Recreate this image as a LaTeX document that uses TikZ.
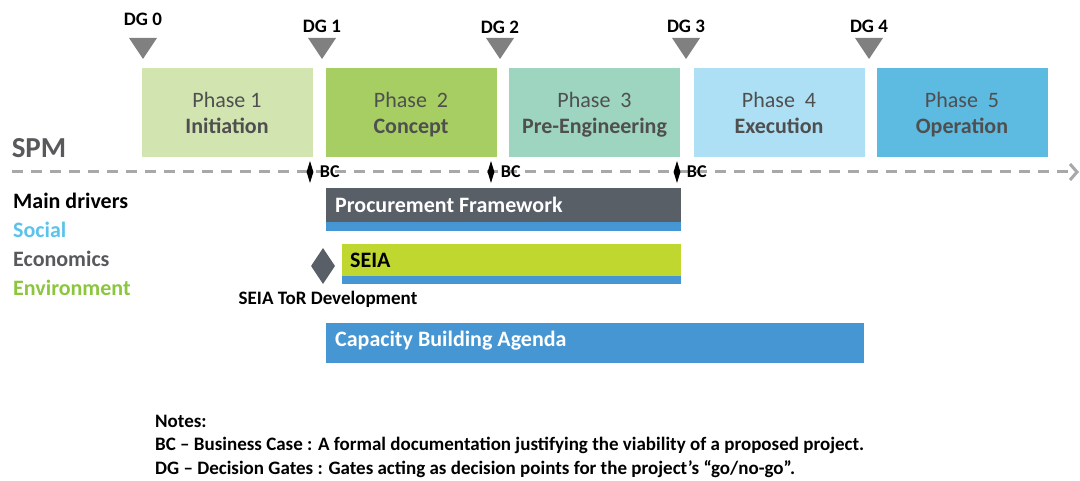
\documentclass[tikz,border=0pt]{standalone}
\usepackage{fontspec}
\setmainfont{Carlito}
\usetikzlibrary{arrows.meta, positioning, shapes.geometric}
\definecolor{gatecol}{HTML}{808080}
\definecolor{phasetext}{HTML}{4F4F4F}
\definecolor{phaseA}{HTML}{D2E5B1}
\definecolor{phaseB}{HTML}{A6CE62}
\definecolor{phaseC}{HTML}{9DD5C0}
\definecolor{phaseD}{HTML}{AEE0F5}
\definecolor{phaseE}{HTML}{5DBAE0}
\definecolor{dashgray}{HTML}{A8A8A8}
\definecolor{econ}{HTML}{585F67}
\definecolor{social}{HTML}{4596D2}
\definecolor{enviro}{HTML}{C0D72F}
\definecolor{socialtxt}{HTML}{5BC3EB}
\definecolor{econtxt}{HTML}{58595B}
\definecolor{envirotxt}{HTML}{8CC63F}

\begin{document}
\begin{tikzpicture}[x=1pt, y=-1pt, >=Stealth,
  phase/.style={minimum width=171pt, minimum height=89pt, inner sep=0pt, align=center, text=phasetext, font=\fontsize{22}{26}\selectfont},
  gatelabel/.style={font=\bfseries\fontsize{19}{21}\selectfont, inner sep=0pt},
  bcmark/.style={diamond, fill=black, minimum width=7pt, minimum height=22pt, inner sep=0pt},
  bclabel/.style={font=\bfseries\fontsize{18}{20}\selectfont, inner sep=0pt},
  driver/.style={anchor=west, inner sep=0pt, font=\bfseries\fontsize{22}{24}\selectfont},
  bartext/.style={anchor=west, inner sep=0pt, font=\bfseries\fontsize{22}{24}\selectfont},
  note/.style={anchor=west, inner sep=0pt, text height=13pt, text depth=4pt, font=\bfseries\fontsize{19}{22}\selectfont},
  timeline/.style={draw=dashgray, line width=3pt, dash pattern=on 11pt off 8pt, -{Straight Barb[length=7pt, width=16pt]}}]
  \useasboundingbox (0,0) rectangle (1080,481);

  % decision gates
  \foreach \gx/\gn/\gy in {143/0/19, 322/1/26, 500/2/27, 686/3/26, 869/4/26} {
    \coordinate (dg\gn) at (\gx,38);
    \fill[gatecol] (dg\gn) ++(-14,0) -- ++(28,0) -- ++(-14,21) -- cycle;
    \node[gatelabel] (dglabel\gn) at (\gx,\gy) {DG \gn};
  }

  % phases
  \foreach \px/\col/\ph/\name [count=\i] in {227/phaseA/Phase 1/Initiation,
      411/phaseB/Phase\ \ 2/Concept, 594.5/phaseC/Phase\ \ 3/Pre-Engineering,
      779/phaseD/Phase\ \ 4/Execution, 962/phaseE/Phase\ \ 5/Operation}
    \node[phase, fill=\col] (phase\i) at (\px,112.5) {\rule{0pt}{24.2pt}\ph\\\textbf{\name}\strut};

  % SPM line with business cases
  \node[font=\bfseries\fontsize{29}{31}\selectfont, text=econtxt, inner sep=0pt] (spm) at (39,148) {SPM};
  \coordinate (spmstart) at (12,172);
  \coordinate (spmend) at (1079,172);
  \draw[timeline] (spmstart) -- (spmend);
  \foreach \bx [count=\i] in {310,491,677} {
    \node[bcmark] (bc\i) at (\bx,172) {};
    \node[bclabel, right=6pt of bc\i] (bclabel\i) {BC};
  }

  % drivers
  \node[driver, text=black] (drivers) at (13,201) {Main drivers};
  \node[driver, text=socialtxt] (social) at (13,230) {Social};
  \node[driver, text=econtxt] (economics) at (13,259) {Economics};
  \node[driver, text=envirotxt] (environment) at (13,288) {Environment};

  % work streams
  \fill[econ] (326,188) rectangle (681,222);
  \fill[social] (326,222) rectangle (681,231);
  \node[bartext, text=white] (proc) at (335,205) {Procurement Framework};

  \fill[enviro] (342,244) rectangle (681,276);
  \fill[social] (342,276) rectangle (681,284);
  \node[bartext, text=black] (seia) at (350,260) {SEIA};
  \node[diamond, fill=econ, minimum width=24pt, minimum height=36pt, inner sep=0pt] (tor) at (323,266) {};
  \node[bclabel, text=black, font=\bfseries\fontsize{19}{21}\selectfont] (torlabel) at (328,299) {SEIA ToR Development};

  \fill[social] (326,323) rectangle (864,363);
  \node[bartext, text=white] (cba) at (335,341) {Capacity Building Agenda};

  % notes
  \node[note] (notes) at (155,423) {Notes:};
  \node[note] (notebc) at (155,446) {BC – Business Case : A formal documentation justifying the viability of a proposed project.};
  \node[note] (notedg) at (155,470) {DG – Decision Gates : Gates acting as decision points for the project’s “go/no-go”.};
\end{tikzpicture}
\end{document}
